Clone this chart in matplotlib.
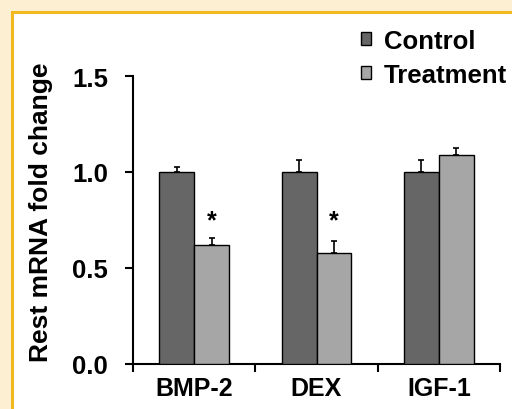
import matplotlib
matplotlib.use('Agg')
import matplotlib.pyplot as plt
from matplotlib.patches import Rectangle
import numpy as np

plt.rcParams['font.family'] = ['Liberation Sans', 'DejaVu Sans']
plt.rcParams['font.weight'] = 'bold'

categories = ['BMP-2', 'DEX', 'IGF-1']
control = [1.0, 1.0, 1.0]
control_err = [0.025, 0.06, 0.06]
treatment = [0.62, 0.58, 1.09]
treatment_err = [0.035, 0.06, 0.035]
significant = [True, True, False]
yticks = [0.0, 0.5, 1.0, 1.5]

fig = plt.figure(figsize=(5.12, 4.10), dpi=100)
fig.patch.set_facecolor('#fdefd2')

# white panel with gold border
panel = Rectangle((12 / 512, -0.05), 1.1, 1 - 13 / 410 + 0.05, transform=fig.transFigure,
                  facecolor='white', edgecolor='#f2b820', linewidth=2.2, zorder=-1)
fig.patches.append(panel)

ax = fig.add_axes([133 / 512, 1 - 365 / 410, (500 - 133) / 512, (365 - 77) / 410])
ax.set_zorder(1)
ax.patch.set_alpha(0)

x = np.arange(len(categories)) + 0.5
w = 0.285
ax.bar(x - w / 2, control, w, color='#666666', edgecolor='black', linewidth=1,
       yerr=[np.zeros(3), control_err], capsize=2.5,
       error_kw=dict(elinewidth=1.2, capthick=1.2, ecolor='black'), label='Control', zorder=3)
ax.bar(x + w / 2, treatment, w, color='#a6a6a6', edgecolor='black', linewidth=1,
       yerr=[np.zeros(3), treatment_err], capsize=2.5,
       error_kw=dict(elinewidth=1.2, capthick=1.2, ecolor='black'), label='Treatment', zorder=3)

for xi, t, e, s in zip(x, treatment, treatment_err, significant):
    if s:
        ax.text(xi + w / 2, 0.685, '*', ha='center', va='bottom', fontsize=18, fontweight='bold')

ax.set_xlim(0, 3)
ax.set_ylim(0, 1.5)
ax.set_yticks(yticks)
ax.set_yticklabels(['%.1f' % v for v in yticks], fontsize=18.5)
ax.set_xticks([0, 1, 2, 3])
ax.set_xticklabels([])
ax.set_xticks(x, minor=True)
ax.set_xticklabels(categories, minor=True, fontsize=18)
ax.tick_params(axis='x', which='minor', length=0, pad=9)
ax.tick_params(axis='x', which='major', length=6, width=1.5, direction='out')
ax.tick_params(axis='y', length=6, width=1.5, direction='out', pad=12)

for side in ['top', 'right']:
    ax.spines[side].set_visible(False)
for side in ['left', 'bottom']:
    ax.spines[side].set_linewidth(1.5)

fig.text(41 / 512, 1 - 212 / 410, 'Rest mRNA fold change', rotation=90, ha='center', va='center',
         fontsize=19, fontweight='bold')

fig.legend(loc='upper left', bbox_to_anchor=(361 / 512, 1 - 30 / 410), frameon=False,
           fontsize=18.5, handlelength=0.4, handleheight=0.4, handletextpad=0.5,
           labelspacing=0.38, borderaxespad=0, borderpad=0)

fig.savefig('out.png', dpi=100, facecolor=fig.get_facecolor())
